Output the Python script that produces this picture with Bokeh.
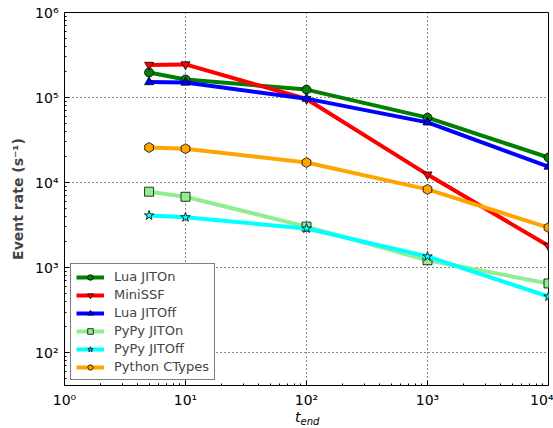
import math
from bokeh.plotting import figure
from bokeh.models import FixedTicker, Div
from bokeh.layouts import column
from bokeh.embed import file_html
from bokeh.resources import INLINE

# ---- data ----
t_end = [5, 10, 100, 1000, 10000]
lua_jit_on = [1.97e5, 1.63e5, 1.24e5, 5.8e4, 1.97e4]
minissf = [2.42e5, 2.45e5, 9.6e4, 1.24e4, 1.8e3]
lua_jit_off = [1.52e5, 1.5e5, 9.7e4, 5.1e4, 1.54e4]
pypy_jit_on = [7.8e3, 6.8e3, 3.03e3, 1.22e3, 650]
pypy_jit_off = [4.1e3, 3.9e3, 2.88e3, 1.35e3, 456]
python_ctypes = [2.58e4, 2.5e4, 1.72e4, 8.3e3, 2.95e3]

series_names = ["Lua JITOn", "MiniSSF", "Lua JITOff", "PyPy JITOn", "PyPy JITOff", "Python CTypes"]
series_values = [lua_jit_on, minissf, lua_jit_off, pypy_jit_on, pypy_jit_off, python_ctypes]
series_colors = ["green", "red", "blue", "lightgreen", "cyan", "orange"]
series_markers = ["circle", "inverted_triangle", "triangle", "square", "star", "hex"]

x_ticks = [1, 10, 100, 1000, 10000]
x_tick_labels = ["10\u2070", "10\u00b9", "10\u00b2", "10\u00b3", "10\u2074"]
y_ticks = [10, 100, 1000, 10000, 100000, 1000000]
y_tick_labels = ["10\u00b9", "10\u00b2", "10\u00b3", "10\u2074", "10\u2075", "10\u2076"]

FONT = "DejaVu Sans"

p = figure(width=553, height=410, x_axis_type="log", y_axis_type="log",
           x_range=(1, 10000), y_range=(41, 1e6),
           output_backend="svg", toolbar_location=None,
           min_border_left=64, min_border_right=5, min_border_top=12, min_border_bottom=24)
p.background_fill_color = "white"
p.border_fill_color = "white"
p.outline_line_color = "black"
p.outline_line_width = 1

def minors(majors):
    out = []
    for m in majors:
        for k in range(2, 10):
            out.append(m * k)
    return out

xticker = FixedTicker(ticks=x_ticks, minor_ticks=minors([1] + x_ticks[:-1]))
yticker = FixedTicker(ticks=y_ticks, minor_ticks=minors(y_ticks[:-1]))

def style_axis(ax):
    ax.axis_line_color = "black"
    ax.major_tick_line_color = "black"
    ax.minor_tick_line_color = "black"
    ax.major_tick_in = 5
    ax.major_tick_out = 0
    ax.minor_tick_in = 2
    ax.minor_tick_out = 0
    ax.major_label_text_font = FONT
    ax.major_label_text_color = "black"
    ax.major_label_text_font_size = "14px"

xa = p.xaxis[0]
xa.ticker = xticker
xa.major_label_overrides = dict(zip(x_ticks, x_tick_labels))
style_axis(xa)
xa.major_label_standoff = 6

ya = p.yaxis[0]
ya.ticker = yticker
ya.major_label_overrides = dict(zip(y_ticks, y_tick_labels))
style_axis(ya)
ya.major_label_standoff = 6
ya.axis_label = "Event rate (s\u207b\u00b9)"
ya.axis_label_text_font = FONT
ya.axis_label_text_font_style = "bold"
ya.axis_label_text_font_size = "14px"
ya.axis_label_standoff = 6

p.xgrid.ticker = xticker
p.ygrid.ticker = yticker
for g in (p.xgrid[0], p.ygrid[0]):
    g.grid_line_color = "black"
    g.grid_line_dash = "1 3"
    g.grid_line_width = 1
    g.grid_line_alpha = 0.9

for name, vals, col, mk in zip(series_names, series_values, series_colors, series_markers):
    p.line(t_end, vals, line_color=col, line_width=4, legend_label=name)
    p.scatter(t_end, vals, marker=mk, size=10 if mk in ("star", "hex") else 9,
              fill_color=col, line_color="black", line_width=0.8,
              angle=(math.pi / 6 if mk == "hex" else 0), legend_label=name)

leg = p.legend[0]
leg.location = (6, 5)
leg.label_text_font = FONT
leg.label_text_font_size = "13px"
leg.label_height = 14
leg.glyph_height = 14
leg.glyph_width = 28
leg.label_standoff = 10
leg.spacing = 3
leg.padding = 5
leg.margin = 0
leg.border_line_color = "black"
leg.border_line_width = 1
leg.background_fill_alpha = 1

# x axis label t_end (italic t with subscript "end")
xlabel = Div(
    text='<span style="font-family:\'DejaVu Sans\';font-style:italic;font-size:14px;line-height:14px">'
         't<sub style="font-size:10px;vertical-align:-3px">end</sub></span>',
    width=80, height=18, margin=(0, 0, 0, 295))

layout = column(p, xlabel, spacing=0)
open("out.html", "w").write(file_html(layout, INLINE))
